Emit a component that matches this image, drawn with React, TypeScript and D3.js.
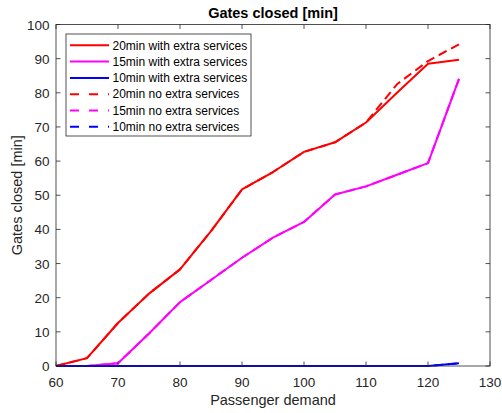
import React from "react";
import * as d3 from "d3";

const demand = [60, 65, 70, 75, 80, 85, 90, 95, 100, 105, 110, 115, 120, 125];
const red20Extra = [0, 2.3, 12.6, 21.2, 28.3, 39.5, 51.7, 56.8, 62.7, 65.5, 71.3, 80, 88.5, 89.7];
const mag15Extra = [0, 0, 0.8, 9.5, 18.7, 25.2, 31.7, 37.6, 42.2, 50.2, 52.6, 56, 59.4, 84.1];
const blue10Extra = [0, 0, 0, 0, 0, 0, 0, 0, 0, 0, 0, 0, 0, 0.8];
const red20No = [0, 2.3, 12.6, 21.2, 28.3, 39.5, 51.7, 56.8, 62.7, 65.5, 71.3, 82.5, 89.3, 94.2];
const mag15No = [0, 0, 0.8, 9.5, 18.7, 25.2, 31.7, 37.6, 42.2, 50.2, 52.6, 56, 59.4, 84.1];
const blue10No = [0, 0, 0, 0, 0, 0, 0, 0, 0, 0, 0, 0, 0, 0.8];

const seriesNames = [
  "20min with extra services",
  "15min with extra services",
  "10min with extra services",
  "20min no extra services",
  "15min no extra services",
  "10min no extra services",
];
const seriesColors = ["#ff0000", "#ff00ff", "#0000ff", "#ff0000", "#ff00ff", "#0000ff"];
const seriesDashed = [false, false, false, true, true, true];
const seriesValues = [red20Extra, mag15Extra, blue10Extra, red20No, mag15No, blue10No];

const xTicks = [60, 70, 80, 90, 100, 110, 120, 130];
const yTicks = [0, 10, 20, 30, 40, 50, 60, 70, 80, 90, 100];

const W = 502;
const H = 413;
const M = { left: 56, right: 12, top: 24.5, bottom: 47 };

export default function App() {
  const x = d3.scaleLinear().domain([60, 130]).range([M.left, W - M.right]);
  const y = d3.scaleLinear().domain([0, 100]).range([H - M.bottom, M.top]);
  const line = d3
    .line<[number, number]>()
    .x((d) => x(d[0]))
    .y((d) => y(d[1]));
  const axisCol = "#262626";
  const font = "'Liberation Sans', Arial, sans-serif";
  const x0 = x(60), x1 = x(130), y0 = y(0), y1 = y(100);
  const tl = 4.5;

  const legX = 66, legY = 34, legW = 185, legRow = 16.3;

  return (
    <svg
      width={W}
      height={H}
      style={{ position: "absolute", left: 0, top: 0, background: "#fff" }}
      fontFamily={font}
    >
      <rect x={0} y={0} width={W} height={H} fill="#fff" />
      <rect x={x0} y={y1} width={x1 - x0} height={y0 - y1} fill="#fff" />
      {seriesValues.map((vals, i) => (
        <path
          key={i}
          d={line(demand.map((d, j) => [d, vals[j]] as [number, number])) || ""}
          fill="none"
          stroke={seriesColors[i]}
          strokeWidth={2}
          strokeDasharray={seriesDashed[i] ? "9,5" : undefined}
          strokeLinejoin="round"
        />
      ))}
      {/* axes box */}
      <rect x={x0} y={y1} width={x1 - x0} height={y0 - y1} fill="none" stroke={axisCol} strokeWidth={0.8} />
      {xTicks.map((t) => (
        <g key={"x" + t}>
          <line x1={x(t)} x2={x(t)} y1={y0} y2={y0 - tl} stroke={axisCol} strokeWidth={0.8} />
          <line x1={x(t)} x2={x(t)} y1={y1} y2={y1 + tl} stroke={axisCol} strokeWidth={0.8} />
          <text x={x(t)} y={y0 + 20.5} textAnchor="middle" fontSize={13.5} fill={axisCol}>
            {t}
          </text>
        </g>
      ))}
      {yTicks.map((t) => (
        <g key={"y" + t}>
          <line x1={x0} x2={x0 + tl} y1={y(t)} y2={y(t)} stroke={axisCol} strokeWidth={0.8} />
          <line x1={x1} x2={x1 - tl} y1={y(t)} y2={y(t)} stroke={axisCol} strokeWidth={0.8} />
          <text x={x0 - 6.5} y={y(t) + 5} textAnchor="end" fontSize={13.5} fill={axisCol}>
            {t}
          </text>
        </g>
      ))}
      <text x={(x0 + x1) / 2} y={405} textAnchor="middle" fontSize={14.5} fill={axisCol}>
        Passenger demand
      </text>
      <text
        transform={`translate(21.5,${(y0 + y1) / 2}) rotate(-90)`}
        textAnchor="middle"
        fontSize={14.5}
        fill={axisCol}
      >
        Gates closed [min]
      </text>
      <text x={(x0 + x1) / 2} y={18.3} textAnchor="middle" fontSize={14.5} fontWeight="bold" fill="#000">
        Gates closed [min]
      </text>
      {/* legend */}
      <rect x={legX} y={legY} width={legW} height={102} fill="#fff" stroke={axisCol} strokeWidth={0.8} />
      {seriesNames.map((n, i) => {
        const ry = legY + 11.3 + i * legRow;
        return (
          <g key={"l" + i}>
            <line
              x1={legX + 4}
              x2={legX + 43}
              y1={ry}
              y2={ry}
              stroke={seriesColors[i]}
              strokeWidth={2}
              strokeDasharray={seriesDashed[i] ? "9,10" : undefined}
            />
            <text x={legX + 46.5} y={ry + 4.2} fontSize={12} fill="#000">
              {n}
            </text>
          </g>
        );
      })}
    </svg>
  );
}
